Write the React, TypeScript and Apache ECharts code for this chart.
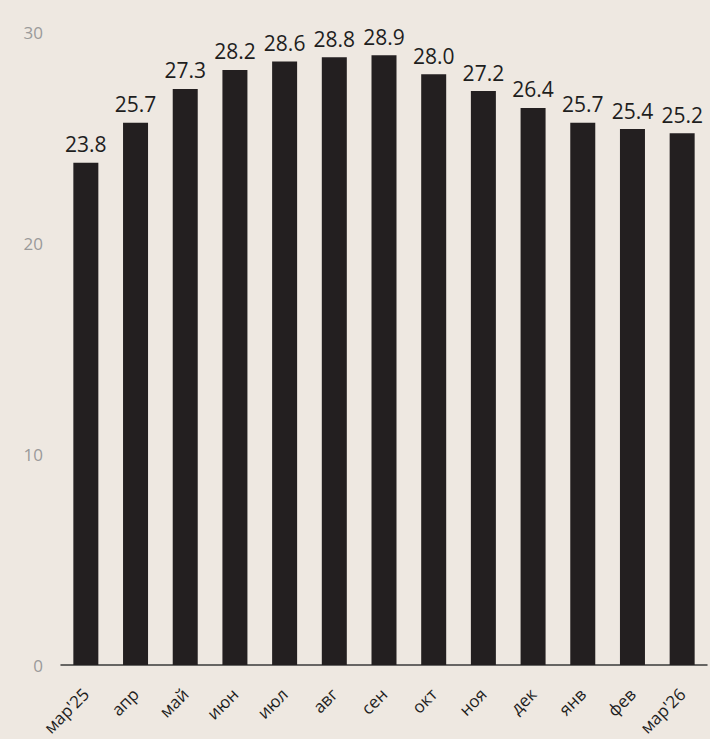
import React, { useEffect, useRef } from "react";
import * as echarts from "echarts";

const categories = ["мар'25", "апр", "май", "июн", "июл", "авг", "сен", "окт", "ноя", "дек", "янв", "фев", "мар'26"];
const values = [23.8, 25.7, 27.3, 28.2, 28.6, 28.8, 28.9, 28.0, 27.2, 26.4, 25.7, 25.4, 25.2];
const yTicks = [0, 10, 20, 30];

export default function App() {
  const ref = useRef<HTMLDivElement>(null);
  useEffect(() => {
    if (!ref.current) return;
    const chart = echarts.init(ref.current, undefined, { renderer: "svg" });
    chart.setOption({
      animation: false,
      backgroundColor: "#eee8e1",
      textStyle: { fontFamily: "Open Sans" },
      grid: { left: 61, right: 3, top: 32, bottom: 74 },
      xAxis: {
        type: "category",
        data: categories,
        axisLine: { show: true, lineStyle: { color: "#3a3a3a", width: 1.5 } },
        axisTick: { show: false },
        axisLabel: { rotate: 45, fontSize: 17, color: "#1e1e1e", margin: 26, interval: 0, fontFamily: "Open Sans" },
      },
      yAxis: {
        type: "value",
        min: yTicks[0],
        max: yTicks[yTicks.length - 1],
        interval: 10,
        axisLine: { show: false },
        axisTick: { show: false },
        splitLine: { show: false },
        axisLabel: { fontSize: 17, color: "#9a9a9a", margin: 18, fontFamily: "Open Sans" },
      },
      series: [
        {
          type: "bar",
          data: values,
          barWidth: 25,
          itemStyle: { color: "#231f20" },
          label: {
            show: true,
            position: "top",
            distance: 8,
            fontSize: 21,
            color: "#1e1e1e",
            fontFamily: "Open Sans",
            formatter: (p: any) => p.value.toFixed(1),
          },
        },
      ],
    });
    return () => chart.dispose();
  }, []);
  return <div ref={ref} style={{ width: 710, height: 739, position: "absolute", left: 0, top: 0 }} />;
}
